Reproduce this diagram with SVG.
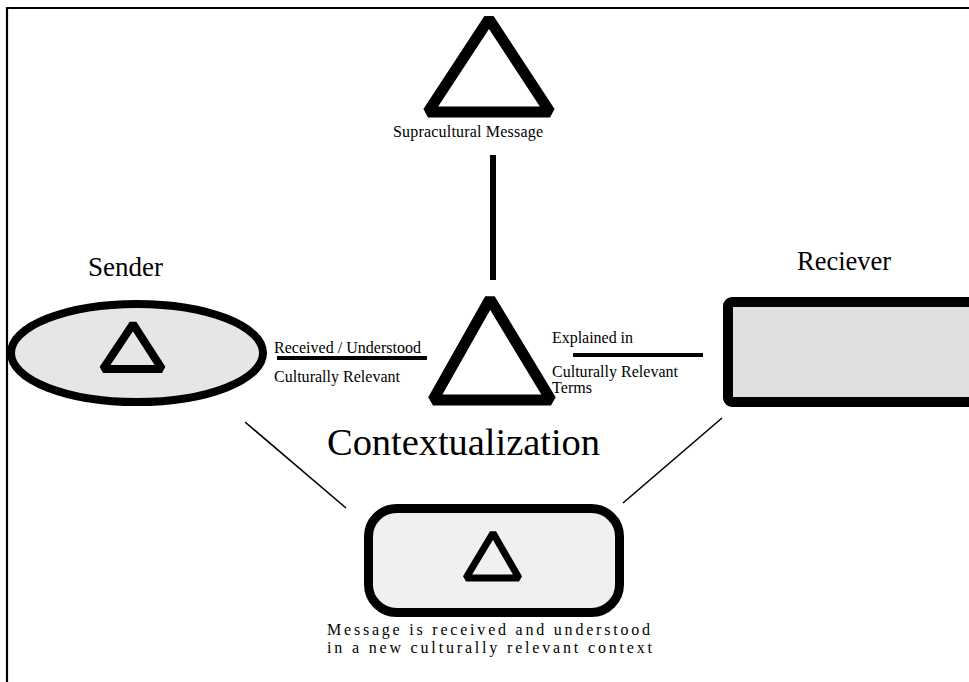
<svg xmlns="http://www.w3.org/2000/svg" width="969" height="682" viewBox="0 0 969 682">
<style>
.t{font-family:"Liberation Serif","Times New Roman",serif;fill:#000}
.s{font-size:16px}
.tri{fill:none;stroke:#000;stroke-linejoin:bevel}
.thin{stroke:#000;stroke-width:1.6;fill:none}
</style>
<rect x="0" y="0" width="969" height="682" fill="#fff"/>
<path d="M7,682 V8 H975" fill="none" stroke="#000" stroke-width="2.2"/>
<g id="supracultural">
<path class="tri" stroke-width="11" d="M489,19 L550,112 L428,112 Z"/>
<text class="t s" x="393" y="137" textLength="150">Supracultural Message</text>
</g>
<g id="contextualization">
<path class="tri" stroke-width="11" d="M490,299 L551,400 L433,400 Z"/>
<text class="t" x="327" y="455" font-size="38.5" textLength="273">Contextualization</text>
</g>
<g id="sender">
<text class="t" x="88" y="276" font-size="27" textLength="75">Sender</text>
<ellipse cx="137" cy="353" rx="126" ry="49" fill="#e6e6e6" stroke="#000" stroke-width="8"/>
<path class="tri" stroke-width="8" d="M133,324 L162,369 L103,369 Z"/>
</g>
<g id="reciever">
<text class="t" x="797" y="270" font-size="26.5" textLength="94">Reciever</text>
<rect x="728" y="302" width="300" height="100" rx="4" fill="#e0e0e0" stroke="#000" stroke-width="10"/>
</g>
<g id="message">
<rect x="368.5" y="508.5" width="251" height="104" rx="28" fill="#f0f0f0" stroke="#000" stroke-width="9"/>
<path class="tri" stroke-width="7" d="M493,533 L519,578 L466,578 Z"/>
<text class="t s" x="327" y="635" textLength="323">Message is received and understood</text>
<text class="t s" x="327" y="653" textLength="325">in a new culturally relevant context</text>
</g>
<g id="connectors">
<line x1="493" y1="155" x2="493" y2="280" stroke="#000" stroke-width="6"/>
<line x1="277" y1="358" x2="427" y2="358" stroke="#000" stroke-width="4"/>
<line x1="573" y1="355" x2="703" y2="355" stroke="#000" stroke-width="4"/>
<line class="thin" x1="245" y1="422" x2="346" y2="508"/>
<line class="thin" x1="722" y1="418" x2="623" y2="503"/>
<text class="t s" x="274" y="353" textLength="147">Received / Understood</text>
<text class="t s" x="274" y="382" textLength="126">Culturally Relevant</text>
<text class="t s" x="552" y="343" textLength="81">Explained in</text>
<text class="t s" x="552" y="377" textLength="126">Culturally Relevant</text>
<text class="t s" x="552" y="393" textLength="40">Terms</text>
</g>
</svg>
